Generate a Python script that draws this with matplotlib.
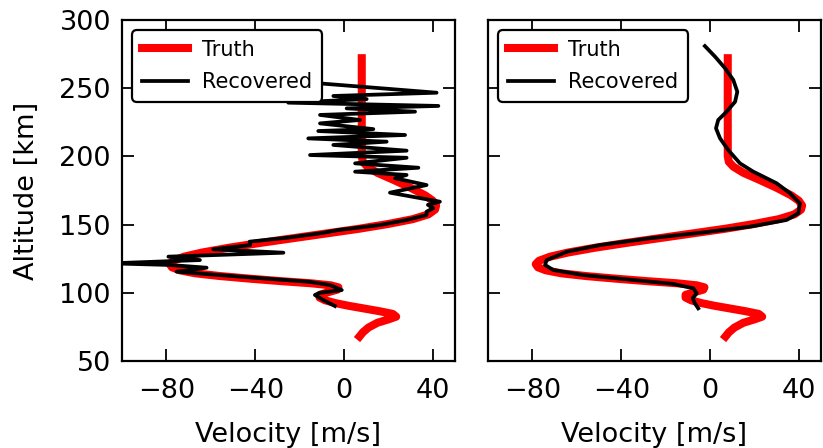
import matplotlib
matplotlib.use("Agg")
import matplotlib.pyplot as plt

# true wind profile (velocity m/s, altitude km)
truth_v = [7, 8.5, 11, 15, 20, 23.5, 22, 16, 9, 2, -4, -8.5, -11, -11, -7, -3, -2.5, -6, -15,
           -28, -42, -56, -67, -74, -77.5, -78.5, -77, -72, -64, -52, -38, -23, -8, 7, 20, 31,
           38, 41, 41.5, 40, 36.5, 30, 22, 15, 10.5, 8.5, 8, 8]
truth_z = [68, 71, 74.5, 78, 80.5, 82.5, 84.5, 86.5, 88.5, 90.5, 92.5, 94.5, 96.5, 98.5,
           100.5, 102.3, 104, 105.5, 107, 108.5, 110.3, 112.3, 114.3, 116.5, 118.7, 121,
           123.5, 126.5, 129.5, 133, 136.5, 140, 143.5, 147, 150.5, 154, 157.5, 161, 164,
           167.5, 171.5, 177, 183, 188, 192.5, 196, 200, 272]

# noisy inversion
rec1_v = [-4.1, -9.3, -13.1, -10.8, -1.0, -6.3, -15.3, -40, -60, -75.4, -61.9, -78.4, -105,
          -64.9, -79.1, -27.3, -58.9, -42.3, -42.5, -25, -10.8, -2.6, 16.2, 28.2, 37.2, 37.2,
          40.2, 37.8, 43.2, 20.7, 37.2, 23, 28.2, 5.0, 33.5, 5.0, 28.2, -15.3, 28.2, -4.8,
          19.2, -16.1, 27.5, -11.6, 13.2, -10.8, 7.2, -10.8, 32.0, 1.2, 42.5, -25.1, 10.2,
          -4.8, 41.7, -30]
rec1_z = [90.3, 94.7, 98.4, 100, 102, 105.7, 108, 111, 113.5, 115.5, 118.4, 120.4, 121.6,
          124, 126.5, 129.4, 131.9, 135, 137.5, 140.5, 143.6, 146, 149.7, 153.4, 157, 159.5,
          162, 164.5, 166.8, 173.4, 179, 184, 186.4, 188.8, 191.7, 194.9, 199, 201, 204.2,
          208.4, 210.8, 213.2, 215.7, 218.6, 220, 224.2, 226.7, 230.4, 232.8, 235.2, 237,
          239.4, 242, 244.3, 246.7, 256]

# regularised inversion
rec2_v = [-5.3, -6.8, -7.8, -6.0, -7.5, -16.5, -34.5, -57.1, -70.6, -74.3, -73.6, -64.5,
          -49.5, -27, -4.5, 18, 34.5, 39.8, 40.5, 36, 30, 22.5, 19.5, 13.5, 8.2, 4.5, 2.7,
          3.7, 7.5, 11.3, 12.3, 10.5, 6.8, 2.3, -2.3]
rec2_z = [88.6, 92.3, 96, 99.6, 103.3, 106.5, 109.4, 113, 116.7, 120.4, 124, 130.1, 135,
          140, 144, 148.5, 153.4, 158.3, 165.6, 173, 180.3, 186.4, 188.8, 194.9, 204.7,
          213.3, 220.6, 226.7, 232.8, 240.1, 247.4, 256, 264.6, 273.1, 280.9]

xticks = [-80, -40, 0, 40]
yticks = [50, 100, 150, 200, 250, 300]

plt.rcParams['font.family'] = 'DejaVu Sans'
plt.rcParams['axes.linewidth'] = 1.6

fig = plt.figure(figsize=(8.23, 4.48), dpi=100)
ax1 = fig.add_axes([122/823, 87/448, 333/823, 341/448])
ax2 = fig.add_axes([488/823, 87/448, 333/823, 341/448])

for ax, rv, rz in [(ax1, rec1_v, rec1_z), (ax2, rec2_v, rec2_z)]:
    ax.plot(truth_v, truth_z, color='red', lw=5.8, label='Truth')
    ax.plot(rv, rz, color='black', lw=2.7, label='Recovered')
    ax.set_xlim(-100, 50)
    ax.set_ylim(50, 300)
    ax.set_xticks(xticks)
    ax.set_yticks(yticks)
    ax.tick_params(direction='in', top=True, right=True, length=8.5, width=1.3,
                   labelsize=19.5)
    ax.tick_params(axis='x', pad=12)
    ax.tick_params(axis='y', pad=8)
    ax.set_xlabel('Velocity [m/s]', fontsize=19.5, labelpad=13)
    leg = ax.legend(loc='upper left', fontsize=15, fancybox=True, framealpha=1,
                    handlelength=2.2, handletextpad=0.7, borderpad=0.45, labelspacing=0.6)
    leg.get_frame().set_edgecolor('black')
    leg.get_frame().set_linewidth(1.6)

ax1.set_ylabel('Altitude [km]', fontsize=19.5, labelpad=14)
ax2.tick_params(labelleft=False)

fig.savefig('out.png', dpi=100)
